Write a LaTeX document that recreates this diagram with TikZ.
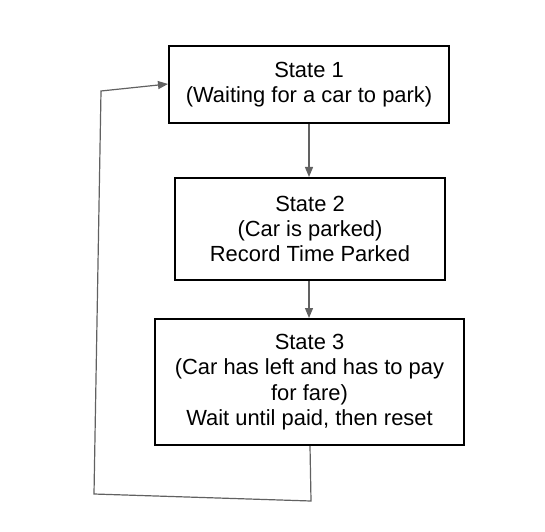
\documentclass[tikz,border=0pt]{standalone}
\usepackage{fontspec}
\setmainfont{Liberation Sans}
\usepackage{tikz}
\usetikzlibrary{arrows.meta}
\usetikzlibrary{positioning}

\begin{document}
\begin{tikzpicture}[x=1bp,y=-1bp]
		\tikzset{statebox/.style={draw=black,line width=2bp,align=center,font=\fontsize{22}{25.4}\selectfont,inner sep=0pt}}
		\tikzset{link/.style={draw={black!62},line width=1.2bp,-{Triangle[length=10bp,width=8bp]}}}
		\useasboundingbox (0,0) rectangle (545,532);
		\node[statebox,minimum width=280bp,minimum height=77bp] (wait) at (309,84.5) {State 1\\(Waiting for a car to park)};
		\node[statebox,minimum width=270bp,minimum height=102bp] (parked) at (310,229) {State 2\\(Car is parked)\\Record Time Parked};
		\node[statebox,minimum width=309bp,minimum height=126bp] (fare) at (309.5,382) {State 3\\(Car has left and has to pay\\for fare)\\Wait until paid, then reset};
		% way back to the first state
		\coordinate (back1) at (311,501);
		\coordinate (back2) at (94,494);
		\coordinate (back3) at (101,91);
		\draw[link] (wait.south -| 309,0) -- (parked.north -| 309,0);
		\draw[link] (parked.south -| 309,0) -- (fare.north -| 309,0);
		\draw[link] (fare.south -| 310,0) -- (back1) -- (back2) -- (back3) -- (wait.west |- 0,84);
\end{tikzpicture}
\end{document}
